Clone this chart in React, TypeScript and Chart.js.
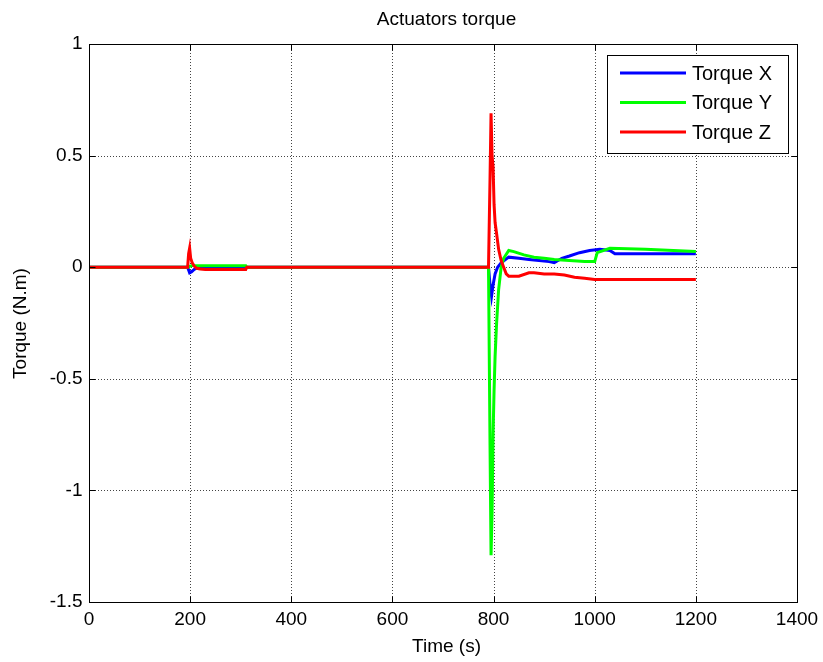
import React, { useEffect, useRef } from "react";
import { Chart, registerables } from "chart.js";

Chart.register(...registerables);

const chartTitle = "Actuators torque";
const xLabel = "Time (s)";
const yLabel = "Torque (N.m)";
const seriesNames = ["Torque X", "Torque Y", "Torque Z"];
const seriesColors = ["#0000ff", "#00ff00", "#ff0000"];
const xTicks = [0, 200, 400, 600, 800, 1000, 1200, 1400];
const yTicks = [-1.5, -1, -0.5, 0, 0.5, 1];

const timeX = [0, 195, 199, 203, 208, 215, 790, 793, 796, 799, 803, 808, 815, 830, 850, 870, 890, 910, 920, 935, 950, 970, 990, 1010, 1030, 1040, 1200];
const torqueX = [0, 0, -0.025, -0.02, -0.01, 0, 0, -0.08, -0.13, -0.08, -0.03, 0.0, 0.02, 0.045, 0.04, 0.035, 0.03, 0.025, 0.02, 0.04, 0.05, 0.065, 0.075, 0.08, 0.075, 0.06, 0.06];

const timeY = [0, 195, 200, 205, 210, 310, 312, 790, 793, 795, 797, 799, 801, 803, 806, 810, 815, 820, 830, 840, 860, 880, 900, 920, 950, 980, 1000, 1005, 1030, 1100, 1200];
const torqueY = [0, 0, 0.005, 0.008, 0.006, 0.006, 0, 0, -0.8, -1.29, -1.1, -0.75, -0.55, -0.4, -0.25, -0.1, 0.0, 0.04, 0.075, 0.07, 0.055, 0.045, 0.04, 0.035, 0.03, 0.025, 0.025, 0.065, 0.085, 0.08, 0.07];

const timeZ = [0, 195, 197, 199, 201, 204, 208, 213, 220, 230, 310, 312, 790, 793, 795, 797, 799, 801, 803, 806, 810, 815, 820, 825, 830, 850, 870, 880, 900, 920, 940, 960, 980, 1000, 1200];
const torqueZ = [0, 0, 0.06, 0.085, 0.04, 0.02, 0.005, -0.005, -0.008, -0.01, -0.01, 0, 0, 0.4, 0.69, 0.5, 0.45, 0.28, 0.2, 0.15, 0.08, 0.03, 0.0, -0.03, -0.04, -0.04, -0.025, -0.025, -0.03, -0.03, -0.035, -0.045, -0.05, -0.055, -0.055];

const FONT = "19px 'Liberation Sans', Arial, sans-serif";
const LEGEND_FONT = "20px 'Liberation Sans', Arial, sans-serif";

const toPoints = (t: number[], v: number[]) => t.map((x, i) => ({ x, y: v[i] }));

const matlabPlugin = {
  id: "matlabDecor",
  beforeDatasetsDraw(chart: any) {
    const { ctx, chartArea: a } = chart;
    const xs = chart.scales.x;
    const ys = chart.scales.y;
    ctx.save();
    ctx.strokeStyle = "#444";
    ctx.lineWidth = 1;
    ctx.setLineDash([1, 2]);
    xTicks.forEach((t) => {
      if (t === xTicks[0] || t === xTicks[xTicks.length - 1]) return;
      const px = Math.round(xs.getPixelForValue(t)) + 0.5;
      ctx.beginPath();
      ctx.moveTo(px, a.top);
      ctx.lineTo(px, a.bottom);
      ctx.stroke();
    });
    yTicks.forEach((t) => {
      if (t === yTicks[0] || t === yTicks[yTicks.length - 1]) return;
      const py = Math.round(ys.getPixelForValue(t)) + 0.5;
      ctx.beginPath();
      ctx.moveTo(a.left, py);
      ctx.lineTo(a.right, py);
      ctx.stroke();
    });
    ctx.restore();
  },
  afterDatasetsDraw(chart: any) {
    const { ctx, chartArea: a } = chart;
    const xs = chart.scales.x;
    const ys = chart.scales.y;
    ctx.save();
    ctx.setLineDash([]);
    ctx.strokeStyle = "#000";
    ctx.lineWidth = 1;
    const L = Math.round(a.left) + 0.5;
    const R = Math.round(a.right) + 0.5;
    const T = Math.round(a.top) + 0.5;
    const B = Math.round(a.bottom) + 0.5;
    ctx.strokeRect(L, T, R - L, B - T);
    const tl = 6;
    ctx.beginPath();
    xTicks.forEach((t) => {
      const px = Math.round(xs.getPixelForValue(t)) + 0.5;
      ctx.moveTo(px, B);
      ctx.lineTo(px, B - tl);
      ctx.moveTo(px, T);
      ctx.lineTo(px, T + tl);
    });
    yTicks.forEach((t) => {
      const py = Math.round(ys.getPixelForValue(t)) + 0.5;
      ctx.moveTo(L, py);
      ctx.lineTo(L + tl, py);
      ctx.moveTo(R, py);
      ctx.lineTo(R - tl, py);
    });
    ctx.stroke();

    // tick labels
    ctx.fillStyle = "#000";
    ctx.font = FONT;
    ctx.textAlign = "center";
    ctx.textBaseline = "middle";
    xTicks.forEach((t) => {
      ctx.fillText(String(t), xs.getPixelForValue(t), 620);
    });
    ctx.textAlign = "right";
    ctx.textBaseline = "middle";
    yTicks.forEach((t) => {
      ctx.fillText(String(t), L - 7, ys.getPixelForValue(t));
    });

    // title and axis labels
    ctx.textAlign = "center";
    ctx.textBaseline = "middle";
    ctx.fillText(chartTitle, (L + R) / 2 + 3, 20);
    ctx.fillText(xLabel, (L + R) / 2 + 3, 647);
    ctx.save();
    ctx.translate(21, (T + B) / 2);
    ctx.rotate(-Math.PI / 2);
    ctx.fillText(yLabel, 0, 0);
    ctx.restore();

    // legend
    const lx = 607.5, ly = 55.5, lw = 181, lh = 98;
    ctx.fillStyle = "#fff";
    ctx.fillRect(lx, ly, lw, lh);
    ctx.strokeStyle = "#000";
    ctx.lineWidth = 1;
    ctx.strokeRect(lx, ly, lw, lh);
    ctx.font = LEGEND_FONT;
    seriesNames.forEach((name, i) => {
      const y = 73 + i * 29.5;
      ctx.strokeStyle = seriesColors[i];
      ctx.lineWidth = 3;
      ctx.beginPath();
      ctx.moveTo(620, y);
      ctx.lineTo(686, y);
      ctx.stroke();
      ctx.fillStyle = "#000";
      ctx.textAlign = "left";
      ctx.textBaseline = "middle";
      ctx.fillText(name, 692, y + 1);
    });
    ctx.restore();
  },
};

export default function App() {
  const ref = useRef<HTMLCanvasElement>(null);
  useEffect(() => {
    if (!ref.current) return;
    const datasets = [
      toPoints(timeX, torqueX),
      toPoints(timeY, torqueY),
      toPoints(timeZ, torqueZ),
    ].map((data, i) => ({
      label: seriesNames[i],
      data,
      borderColor: seriesColors[i],
      backgroundColor: seriesColors[i],
      borderWidth: 3,
      pointRadius: 0,
      tension: 0,
      fill: false,
      order: 2 - i,
    }));
    const chart = new Chart(ref.current, {
      type: "line",
      data: { datasets },
      options: {
        animation: false,
        responsive: false,
        maintainAspectRatio: false,
        layout: { padding: { left: 0, top: 44, right: 26, bottom: 0 } },
        plugins: { legend: { display: false }, title: { display: false }, tooltip: { enabled: false } },
        scales: {
          x: {
            type: "linear",
            min: 0,
            max: 1400,
            grid: { display: false },
            border: { display: false },
            ticks: { display: false },
            afterFit: (s: any) => { s.height = 60; },
          },
          y: {
            type: "linear",
            min: -1.5,
            max: 1,
            grid: { display: false },
            border: { display: false },
            ticks: { display: false },
            afterFit: (s: any) => { s.width = 89; },
          },
        },
      },
      plugins: [matlabPlugin],
    });
    return () => chart.destroy();
  }, []);
  return (
    <div style={{ position: "fixed", left: 0, top: 0, width: 823, height: 662, background: "#fff" }}>
      <canvas ref={ref} width={823} height={662} style={{ width: 823, height: 662 }} />
    </div>
  );
}
